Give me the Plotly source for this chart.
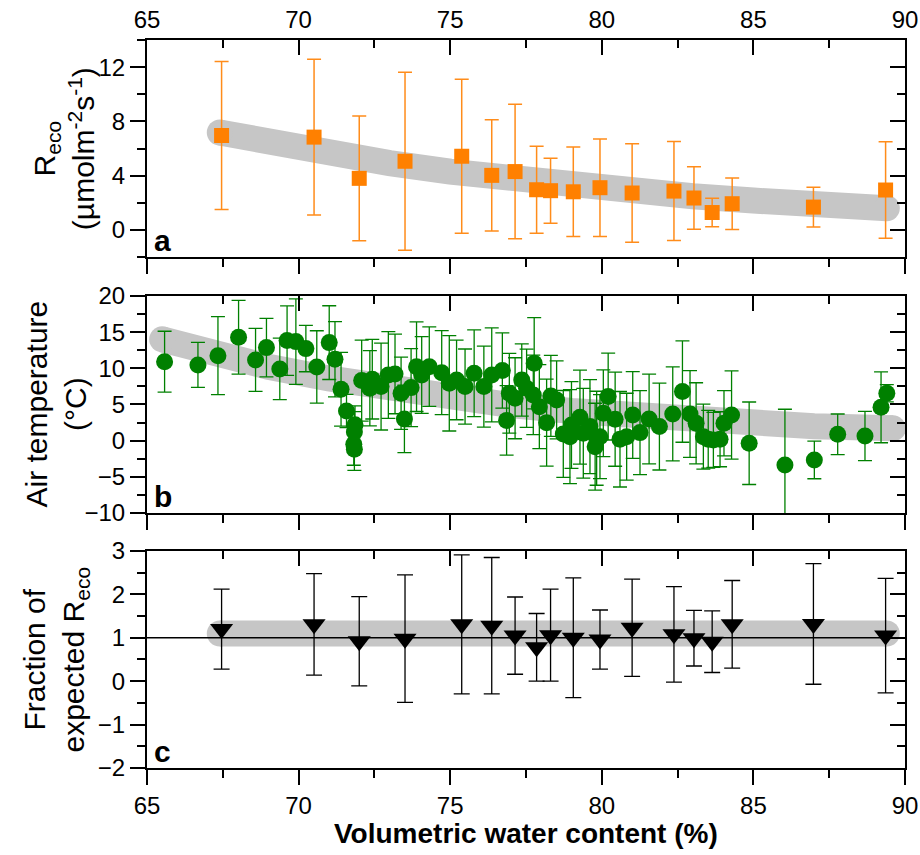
import plotly.graph_objects as go

# ---------------- Data ----------------
# Panel a: ecosystem respiration vs volumetric water content
vwc_a = [67.46, 70.51, 72.0, 73.51, 75.38, 76.37, 77.14, 77.85, 78.31, 79.06,
         79.94, 81.0, 82.38, 83.04, 83.64, 84.3, 86.98, 89.36]
reco = [6.96, 6.84, 3.8, 5.06, 5.43, 4.02, 4.3, 2.96, 2.89, 2.81,
        3.11, 2.72, 2.86, 2.35, 1.28, 1.93, 1.68, 2.94]
reco_err = [5.45, 5.74, 4.6, 6.57, 5.67, 4.1, 4.96, 3.2, 2.4, 3.3,
            3.6, 3.64, 3.65, 2.3, 1.05, 1.9, 1.47, 3.55]
fit_a_x = [67.4, 69, 71, 73, 75, 77, 79, 81, 83, 85, 87, 89.4]
fit_a_y = [7.18, 6.46, 5.63, 4.92, 4.29, 3.74, 3.26, 2.84, 2.48, 2.16, 1.88, 1.6]

# Panel b: air temperature
vwc_b = [65.58, 66.68, 67.34, 68.02, 68.58, 68.94, 69.38, 69.62, 69.91, 70.24,
         70.6, 71.01, 71.2, 71.4, 71.58, 71.86, 71.84, 71.82, 71.84, 72.08,
         72.35, 72.43, 72.72, 72.96, 73.18, 73.38, 73.49, 73.71, 73.89, 74.06,
         74.31, 74.72, 74.97, 75.21, 75.49, 75.79, 76.11, 76.37, 76.72, 76.86,
         76.95, 77.14, 77.36, 77.52, 77.77, 77.74, 77.94, 78.18, 78.32, 78.51,
         78.73, 78.95, 79.0, 79.28, 79.39, 79.61, 79.78, 79.83, 79.94, 80.05,
         80.21, 80.44, 80.6, 80.82, 81.02, 81.26, 81.56, 81.9, 82.34, 82.66,
         82.91, 83.11, 83.35, 83.51, 83.68, 83.9, 84.03, 84.28, 84.86, 86.04,
         87.01, 87.78, 88.68, 89.21, 89.4]
air_t = [10.92, 10.47, 11.75, 14.29, 11.16, 12.86, 9.91, 13.83, 13.69, 12.72,
         10.19, 13.55, 11.25, 7.1, 4.1, 2.2, 1.2, -0.5, -1.2, 8.3,
         7.24, 8.49, 7.47, 9.08, 9.22, 6.55, 3.0, 7.33, 10.23, 9.08,
         10.23, 9.4, 7.93, 8.39, 7.47, 9.31, 7.47, 9.08, 9.7, 2.8,
         6.55, 5.86, 8.39, 7.24, 10.7, 6.32, 4.7, 2.49, 6.18, 5.63,
         0.93, 0.55, 2.17, 3.24, 1.02, 1.94, -0.83, 0.33, 0.55, 3.79,
         6.09, 2.96, 0.19, 0.55, 3.55, 1.11, 3.0, 1.94, 3.69, 6.78,
         3.69, 2.4, 0.55, 0.19, 0.1, 0.19, 2.4, 3.55, -0.36, -3.36,
         -2.67, 0.88, 0.65, 4.61, 6.55]
air_t_err = [4.2, 3.1, 5.4, 5.1, 4.35, 4.05, 4.25, 4.8, 5.9, 3.2,
             5.0, 5.1, 5.2, 5.1, 2.3, 2.6, 2.8, 2.9, 2.9, 5.6,
             5.2, 5.5, 6.0, 6.0, 5.5, 5.0, 4.66, 5.4, 6.2, 5.3,
             5.5, 5.8, 6.6, 5.5, 5.2, 6.0, 5.6, 6.5, 5.2, 4.8,
             5.5, 5.6, 5.0, 5.4, 6.3, 5.5, 5.8, 6.0, 5.6, 5.4,
             6.0, 6.5, 6.0, 6.5, 6.2, 6.5, 6.0, 6.5, 5.8, 6.0,
             6.0, 6.5, 6.6, 6.0, 6.0, 5.8, 6.2, 6.0, 6.5, 7.0,
             6.0, 5.6, 4.5, 4.0, 3.8, 3.8, 4.5, 6.1, 5.7, 7.7,
             2.6, 2.8, 3.4, 4.9, 1.2]
fit_b_x = [65.5, 67, 69, 71, 73, 75, 77, 79, 81, 83, 85, 87, 89.6]
fit_b_y = [14.0, 12.0, 10.2, 8.6, 7.2, 6.0, 4.9, 4.1, 3.4, 2.8, 2.4, 2.0, 1.7]

# Panel c: fraction of expected Reco
frac = [1.2, 1.31, 0.92, 0.98, 1.31, 1.28, 1.05, 0.78, 1.06, 1.0,
        0.96, 1.23, 1.08, 0.99, 0.91, 1.31, 1.32, 1.05]
frac_err = [0.92, 1.17, 1.03, 1.47, 1.6, 1.57, 0.89, 0.78, 1.06, 1.38,
            0.68, 1.12, 1.1, 0.64, 0.71, 1.01, 1.39, 1.32]
fit_c_x = [67.4, 89.4]
fit_c_y = [1.1, 1.1]
ref_level = 1

x_ticks = [65, 70, 75, 80, 85, 90]

# ---------------- Styling ----------------
FONT = "Arial, Liberation Sans, sans-serif"
GRAY = "#C6C6C6"
ORANGE = "#FF8000"
GREEN = "#008000"
TICKSZ = 24
TITLESZ = 30

fig = go.Figure()

def band(xs, ys, xa, ya):
    fig.add_trace(go.Scatter(x=xs, y=ys, mode="lines", line=dict(color=GRAY, width=26),
                             xaxis=xa, yaxis=ya, hoverinfo="skip", showlegend=False))
    fig.add_trace(go.Scatter(x=[xs[0], xs[-1]], y=[ys[0], ys[-1]], mode="markers",
                             marker=dict(color=GRAY, size=26, line=dict(width=0)),
                             xaxis=xa, yaxis=ya, hoverinfo="skip", showlegend=False))

band(fit_a_x, fit_a_y, "x", "y")
band(fit_b_x, fit_b_y, "x2", "y2")
band(fit_c_x, fit_c_y, "x3", "y3")

fig.add_trace(go.Scatter(x=vwc_a, y=reco, mode="markers", xaxis="x", yaxis="y",
                         marker=dict(symbol="square", size=15, color=ORANGE, line=dict(width=0)),
                         error_y=dict(type="data", array=reco_err, color="#FF8C1A", thickness=1.5, width=7),
                         showlegend=False))
fig.add_trace(go.Scatter(x=vwc_b, y=air_t, mode="markers", xaxis="x2", yaxis="y2",
                         marker=dict(symbol="circle", size=17, color=GREEN, line=dict(width=0)),
                         error_y=dict(type="data", array=air_t_err, color=GREEN, thickness=1.3, width=7),
                         showlegend=False))
fig.add_trace(go.Scatter(x=vwc_a, y=frac, mode="markers", xaxis="x3", yaxis="y3",
                         marker=dict(symbol="triangle-down", size=20, color="black", line=dict(width=0)),
                         error_y=dict(type="data", array=frac_err, color="black", thickness=1.3, width=8),
                         showlegend=False))

# dummy traces to activate mirror axes
for xa, ya in [("x4", "y"), ("x", "y4"), ("x5", "y2"), ("x2", "y5"), ("x6", "y3"), ("x3", "y6")]:
    fig.add_trace(go.Scatter(x=[None], y=[None], xaxis=xa, yaxis=ya, showlegend=False, hoverinfo="skip"))

fig.add_shape(type="line", xref="x3 domain", x0=0, x1=1, yref="y3", y0=ref_level, y1=ref_level,
              line=dict(color="black", width=1.6))

dom = {"y": [0.7019, 1.0], "y2": [0.3503, 0.6484], "y3": [0.0, 0.2981]}

def xax(anchor, side, ticks, labels, overlaying=None):
    d = dict(range=[65, 90], tickvals=x_ticks, anchor=anchor, side=side, ticks=ticks,
             ticklen=15, tickwidth=2, tickcolor="black", showline=True, linewidth=2,
             linecolor="black", showgrid=False, zeroline=False, showticklabels=labels,
             automargin=False,
             tickfont=dict(family=FONT, size=TICKSZ, color="black"),
             minor=dict(dtick=2.5, tick0=65, ticks=ticks, ticklen=8, tickwidth=2, tickcolor="black"))
    if overlaying:
        d["overlaying"] = overlaying
    else:
        d["domain"] = [0, 1]
    return d

def yax(anchor, side, ticks, labels, rng, dtick, mdtick, domain, overlaying=None):
    d = dict(range=rng, dtick=dtick, tick0=0, anchor=anchor, side=side, ticks=ticks,
             ticklen=15, tickwidth=2, tickcolor="black", showline=True, linewidth=2,
             linecolor="black", showgrid=False, zeroline=False, showticklabels=labels,
             automargin=False,
             tickfont=dict(family=FONT, size=TICKSZ, color="black"),
             minor=dict(dtick=mdtick, tick0=0, ticks=ticks, ticklen=8, tickwidth=2, tickcolor="black"))
    if overlaying:
        d["overlaying"] = overlaying
    else:
        d["domain"] = domain
    return d

fig.update_layout(
    width=920, height=855,
    margin=dict(l=147, r=15, t=40, b=87),
    paper_bgcolor="white", plot_bgcolor="white",
    font=dict(family=FONT, color="black"),
    xaxis=xax("y", "bottom", "outside", False),
    xaxis2=xax("y2", "bottom", "outside", False),
    xaxis3=xax("y3", "bottom", "outside", True),
    xaxis4=xax("y", "top", "inside", True, overlaying="x"),
    xaxis5=xax("y2", "top", "inside", False, overlaying="x2"),
    xaxis6=xax("y3", "top", "inside", False, overlaying="x3"),
    yaxis=yax("x", "left", "outside", True, [-2, 14], 4, 2, dom["y"]),
    yaxis2=yax("x2", "left", "outside", True, [-10, 20], 5, 2.5, dom["y2"]),
    yaxis3=yax("x3", "left", "outside", True, [-2, 3], 1, 0.5, dom["y3"]),
    yaxis4=yax("x", "right", "inside", False, [-2, 14], 4, 2, None, overlaying="y"),
    yaxis5=yax("x2", "right", "inside", False, [-10, 20], 5, 2.5, None, overlaying="y2"),
    yaxis6=yax("x3", "right", "inside", False, [-2, 3], 1, 0.5, None, overlaying="y3"),
)

# x-axis title
fig.add_annotation(text="<b>Volumetric water content (%)</b>", xref="x3 domain", yref="paper",
                   x=0.5, y=-0.0905, xanchor="center", yanchor="middle", showarrow=False,
                   font=dict(family=FONT, size=28, color="black"))

# y-axis titles as rotated annotations
ytitles = [
    ("R<sub>eco</sub><br>(µmolm<sup>-2</sup>s<sup>-1</sup>)", "y domain", -0.11),
    ("Air temperature<br>(°C)", "y2 domain", -0.12),
    ("Fraction of<br>expected R<sub>eco</sub>", "y3 domain", -0.12),
]
for txt, yref, xpos in ytitles:
    fig.add_annotation(text=txt, textangle=-90, xref="paper", yref=yref, x=xpos, y=0.5,
                       xanchor="center", yanchor="middle", showarrow=False,
                       font=dict(family=FONT, size=TITLESZ, color="black"))

for letter, xr, yr in [("a", "x domain", "y domain"), ("b", "x2 domain", "y2 domain"),
                       ("c", "x3 domain", "y3 domain")]:
    fig.add_annotation(text="<b>%s</b>" % letter, xref=xr, yref=yr, x=0.006, y=-0.01,
                       xanchor="left", yanchor="bottom", showarrow=False,
                       font=dict(family=FONT, size=TITLESZ, color="black"))

# remove the browser's default 8px page margin so the 920x855 figure fills the window
fig.write_html("out.html", config={"displayModeBar": False},
               post_script="document.body.style.margin='0';document.body.style.overflow='hidden';")
